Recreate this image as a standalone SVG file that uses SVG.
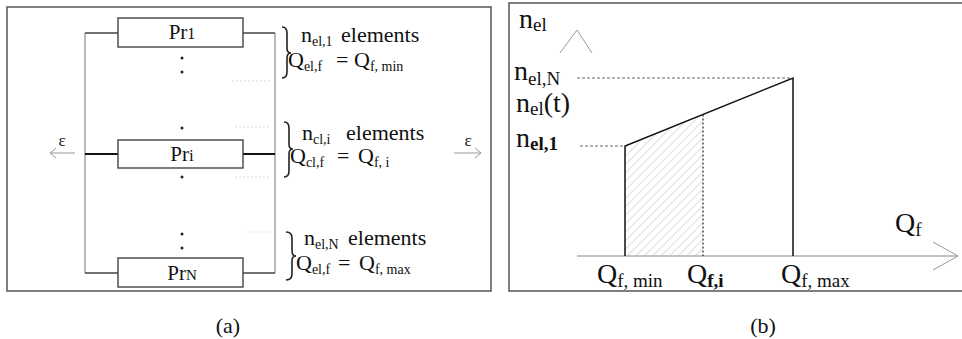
<svg xmlns="http://www.w3.org/2000/svg" width="962" height="339" viewBox="0 0 962 339">
<style>
text{font-family:"Liberation Serif","Times New Roman",serif;fill:#111}
.m{font-size:22px}
.s{font-size:14px}
.bm{font-size:28px}
.bs{font-size:19px}
.frame{fill:none;stroke:#555;stroke-width:1.5}
.box{fill:#fff;stroke:#444;stroke-width:1.4}
.wire{fill:none;stroke:#444;stroke-width:1.4}
.thin{fill:none;stroke:#777;stroke-width:1}
.faint{fill:none;stroke:#ddd;stroke-width:1;stroke-dasharray:2 2}
.brace{fill:none;stroke:#222;stroke-width:1.6}
.grey{fill:none;stroke:#999;stroke-width:1}
.dash{fill:none;stroke:#666;stroke-width:1;stroke-dasharray:3 2}
</style>
<defs>
<pattern id="hatch" width="6" height="6" patternUnits="userSpaceOnUse" patternTransform="rotate(45)">
<line x1="0" y1="0" x2="0" y2="6" stroke="#aaa" stroke-width="0.8"/>
</pattern>
</defs>

<!-- Panel (a) -->
<rect class="frame" x="7" y="7" width="484" height="284"/>

<g id="connectors">
<path class="thin" d="M85 33 V273 M275 33 V273"/>
<path class="wire" d="M85 33 H118 M243 33 H275"/>
<path class="wire" d="M85 273 H118 M243 273 H275"/>
<path fill="none" stroke="#111" stroke-width="2.2" d="M85 154 H118 M243 154 H275"/>
<path class="faint" d="M232 81 H270 M235 127 H270 M235 177 H270 M245 232 H270"/>
<g fill="#222">
<circle cx="182" cy="58" r="1.5"/><circle cx="182" cy="72" r="1.5"/>
<circle cx="182" cy="128" r="1.5"/><circle cx="182" cy="177" r="1.5"/>
<circle cx="182" cy="234" r="1.5"/><circle cx="182" cy="248" r="1.5"/>
</g>
<path class="grey" d="M50 153 H75 M56 148 L50 153 L56 158"/>
<path class="grey" d="M454 153 H481 M475 148 L481 153 L475 158"/>
</g>

<g id="eps-left"><text x="62" y="146" font-size="17" text-anchor="middle" fill="#444">ε</text></g>
<g id="eps-right"><text x="468" y="146" font-size="17" text-anchor="middle" fill="#444">ε</text></g>

<g id="pr1">
<rect class="box" x="118" y="18" width="125" height="29"/>
<text x="182" y="39" font-size="21" text-anchor="middle">Pr<tspan font-size="16">1</tspan></text>
</g>
<g id="pri">
<rect class="box" x="118" y="140" width="125" height="28"/>
<text x="182" y="161" font-size="21" text-anchor="middle">Pr<tspan font-size="17">i</tspan></text>
</g>
<g id="prn">
<rect class="box" x="118" y="258" width="125" height="29"/>
<text x="182" y="280" font-size="21" text-anchor="middle">Pr<tspan font-size="15">N</tspan></text>
</g>

<g id="group1">
<path class="brace" d="M282 27 Q287 27 287 33 L287 48 Q287 53 291 53 Q287 53 287 58 L287 72 Q287 78 282 78"/>
<text class="m" x="301" y="42">n<tspan class="s" dy="4">el,1</tspan><tspan x="341" dy="-4">elements</tspan></text>
<text class="m" x="288" y="67">Q<tspan class="s" dy="4">el,f</tspan><tspan x="336" dy="-4">=</tspan><tspan x="354">Q</tspan><tspan class="s" dy="4">f, min</tspan></text>
</g>
<g id="group2">
<path class="brace" d="M284 122 Q289 122 289 128 L289 144 Q289 149 293 149 Q289 149 289 154 L289 171 Q289 177 284 177"/>
<text class="m" x="302" y="140">n<tspan class="s" dy="4">cl,i</tspan><tspan x="346" dy="-4">elements</tspan></text>
<text class="m" x="290" y="163">Q<tspan class="s" dy="4">cl,f</tspan><tspan x="337" dy="-4">=</tspan><tspan x="358">Q</tspan><tspan class="s" dy="4">f, i</tspan></text>
</g>
<g id="group3">
<path class="brace" d="M286 232 Q292 232 292 238 L292 251 Q292 256 296 256 Q292 256 292 261 L292 274 Q292 280 286 280"/>
<text class="m" x="304" y="245">n<tspan class="s" dy="4">el,N</tspan><tspan x="348" dy="-4">elements</tspan></text>
<text class="m" x="296" y="270">Q<tspan class="s" dy="4">el,f</tspan><tspan x="338" dy="-4">=</tspan><tspan x="359">Q</tspan><tspan class="s" dy="4">f, max</tspan></text>
</g>

<g id="caption-a"><text x="228" y="333" font-size="22" text-anchor="middle">(a)</text></g>

<!-- Panel (b) -->
<path class="frame" d="M962 3 H509 V291 H962"/>

<g id="axes">
<path class="grey" d="M560 53 L577 30 L592 53"/>
<path fill="none" stroke="#888" stroke-width="1" d="M577 256 H958"/>
<path class="grey" d="M933 242 L958 256 L933 270"/>
</g>

<g id="curve">
<polygon points="625,146 703,114.5 703,256 625,256" fill="url(#hatch)"/>
<path class="dash" d="M577 78 H792 M580 146 H625"/>
<path fill="none" stroke="#111" stroke-width="1.5" d="M625 256 V146 L793 78 V256"/>
<path fill="none" stroke="#333" stroke-width="1.3" stroke-dasharray="2 2" d="M703 114.5 V256"/>
</g>

<g id="ylabels">
<text class="bm" x="519" y="28">n<tspan class="bs" dy="3">el</tspan></text>
<text class="bm" x="514" y="80">n<tspan class="bs" dy="5">el,N</tspan></text>
<text class="bm" x="516" y="112">n<tspan class="bs" dy="3">el</tspan><tspan dy="-3">(t)</tspan></text>
<text class="bm" x="516" y="147">n<tspan class="bs" dy="3" font-weight="bold">el,1</tspan></text>
</g>
<g id="xlabels">
<text class="bm" x="895" y="232">Q<tspan class="bs" dy="4">f</tspan></text>
<text class="bm" x="597" y="283">Q<tspan class="bs" dy="4">f, min</tspan></text>
<text class="bm" x="687" y="283">Q<tspan class="bs" dy="4" font-weight="bold">f,i</tspan></text>
<text class="bm" x="781" y="283">Q<tspan class="bs" dy="4">f, max</tspan></text>
</g>

<g id="caption-b"><text x="763" y="333" font-size="22" text-anchor="middle">(b)</text></g>
</svg>
